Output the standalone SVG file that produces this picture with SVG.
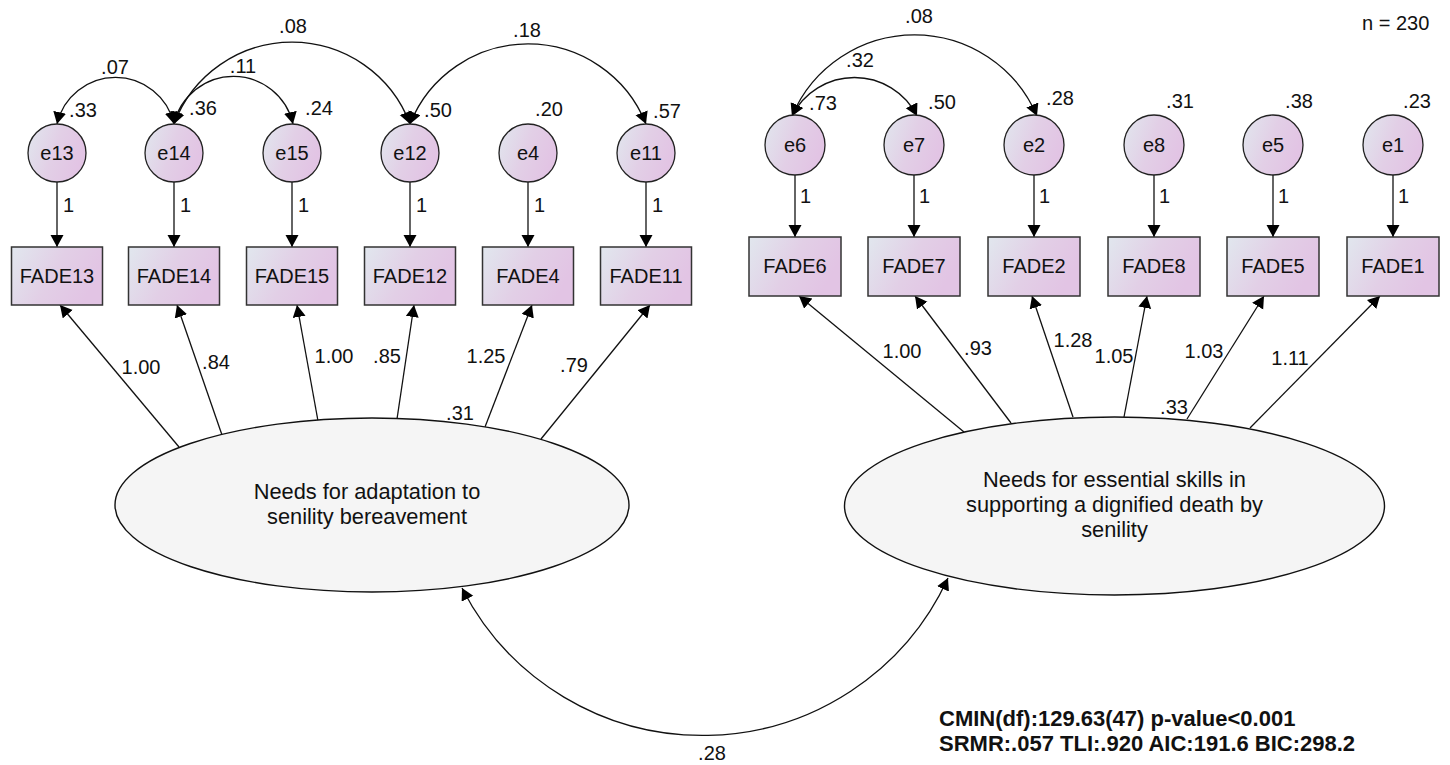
<svg xmlns="http://www.w3.org/2000/svg" width="1450" height="765" viewBox="0 0 1450 765">
<defs>
<linearGradient id="g" x1="0" y1="0" x2="1" y2="0.35">
<stop offset="0" stop-color="#e1e7ee"/>
<stop offset="0.55" stop-color="#e2cfe6"/>
<stop offset="1" stop-color="#e2c4e4"/>
</linearGradient>
<marker id="ah" markerUnits="userSpaceOnUse" markerWidth="14" markerHeight="14" refX="12" refY="6.5" orient="auto-start-reverse" viewBox="0 0 14 14">
<path d="M0,0 L12,6.5 L0,13 z" fill="#000"/>
</marker>
<style>
.t{font-family:"Liberation Sans",Arial,sans-serif;font-size:20px;fill:#111;}
.m{text-anchor:middle;}
.b{font-weight:bold;font-size:22px;}
.lat{font-size:21.8px;}
.box{fill:url(#g);stroke:#333;stroke-width:1.5;}
.err{fill:url(#g);stroke:#222;stroke-width:1.3;}
.ell{fill:#f5f5f5;stroke:#111;stroke-width:1.4;}
.c{fill:none;stroke:#111;stroke-width:1.3;}
.a{marker-end:url(#ah);}
.aa{marker-start:url(#ah);marker-end:url(#ah);}
</style>
</defs>

<g id="connectors">
<path class="c a" d="M57,182 V247"/>
<path class="c a" d="M174,182 V247"/>
<path class="c a" d="M292,182 V247"/>
<path class="c a" d="M410,182 V247"/>
<path class="c a" d="M528,182 V247"/>
<path class="c a" d="M646,182 V247"/>
<path class="c a" d="M795,175 V237"/>
<path class="c a" d="M914,175 V237"/>
<path class="c a" d="M1034,175 V237"/>
<path class="c a" d="M1154,175 V237"/>
<path class="c a" d="M1273,175 V237"/>
<path class="c a" d="M1393,175 V237"/>
<path class="c a" d="M179,447 L60,305"/>
<path class="c a" d="M222,435 L177,305"/>
<path class="c a" d="M318,421 L297,305"/>
<path class="c a" d="M397,419 L414,305"/>
<path class="c a" d="M485,427 L532,305"/>
<path class="c a" d="M541,439 L650,305"/>
<path class="c a" d="M964,432 L799,296"/>
<path class="c a" d="M1011,423 L915,296"/>
<path class="c a" d="M1073,417 L1032,296"/>
<path class="c a" d="M1124,417 L1147,296"/>
<path class="c a" d="M1187,419 L1264,296"/>
<path class="c a" d="M1250,428 L1380,296"/>
<path class="c aa" d="M57,124 A60,60 0 0 1 174,124"/>
<path class="c aa" d="M174,124 A61,61 0 0 1 293,124"/>
<path class="c aa" d="M174,124 A126,126 0 0 1 410,124"/>
<path class="c aa" d="M410,124 A127,127 0 0 1 646,124"/>
<path class="c aa" d="M792,116 A70,70 0 0 1 917,116"/>
<path class="c aa" d="M792,116 A133,133 0 0 1 1037,116"/>
<path class="c aa" d="M462,588 A270,270 0 0 0 948,578"/>

<g class="t">
<text x="63" y="212">1</text>
<text x="180" y="212">1</text>
<text x="298" y="212">1</text>
<text x="416" y="212">1</text>
<text x="534" y="212">1</text>
<text x="652" y="212">1</text>
<text x="800" y="203">1</text>
<text x="919" y="203">1</text>
<text x="1039" y="203">1</text>
<text x="1159" y="203">1</text>
<text x="1278" y="203">1</text>
<text x="1398" y="203">1</text>

<text class="m" x="141" y="374">1.00</text>
<text class="m" x="216" y="369">.84</text>
<text class="m" x="334" y="363">1.00</text>
<text class="m" x="387" y="363">.85</text>
<text class="m" x="486" y="363">1.25</text>
<text class="m" x="574" y="372">.79</text>
<text class="m" x="460" y="420">.31</text>

<text class="m" x="902" y="358">1.00</text>
<text class="m" x="978" y="355">.93</text>
<text class="m" x="1073" y="347">1.28</text>
<text class="m" x="1114" y="363">1.05</text>
<text class="m" x="1204" y="358">1.03</text>
<text class="m" x="1290" y="365">1.11</text>
<text class="m" x="1174" y="414">.33</text>

<text class="m" x="83" y="117">.33</text>
<text class="m" x="203" y="115">.36</text>
<text class="m" x="319" y="115">.24</text>
<text class="m" x="438" y="117">.50</text>
<text class="m" x="549" y="116">.20</text>
<text class="m" x="667" y="118">.57</text>
<text class="m" x="115" y="74">.07</text>
<text class="m" x="243" y="73">.11</text>
<text class="m" x="293" y="33">.08</text>
<text class="m" x="527" y="37">.18</text>

<text class="m" x="823" y="110">.73</text>
<text class="m" x="942" y="109">.50</text>
<text class="m" x="1060" y="105">.28</text>
<text class="m" x="1180" y="108">.31</text>
<text class="m" x="1299" y="108">.38</text>
<text class="m" x="1417" y="108">.23</text>
<text class="m" x="860" y="67">.32</text>
<text class="m" x="919" y="23">.08</text>

<text class="m" x="712" y="760">.28</text>
</g>
</g>

<g id="e13"><circle class="err" cx="57" cy="153" r="29"/><text class="t m" x="57" y="160">e13</text></g>
<g id="e14"><circle class="err" cx="174" cy="153" r="29"/><text class="t m" x="174" y="160">e14</text></g>
<g id="e15"><circle class="err" cx="292" cy="153" r="29"/><text class="t m" x="292" y="160">e15</text></g>
<g id="e12"><circle class="err" cx="410" cy="153" r="29"/><text class="t m" x="410" y="160">e12</text></g>
<g id="e4"><circle class="err" cx="528" cy="153" r="29"/><text class="t m" x="528" y="160">e4</text></g>
<g id="e11"><circle class="err" cx="646" cy="153" r="29"/><text class="t m" x="646" y="160">e11</text></g>

<g id="e6"><circle class="err" cx="795" cy="145" r="30"/><text class="t m" x="795" y="152">e6</text></g>
<g id="e7"><circle class="err" cx="914" cy="145" r="30"/><text class="t m" x="914" y="152">e7</text></g>
<g id="e2"><circle class="err" cx="1034" cy="145" r="30"/><text class="t m" x="1034" y="152">e2</text></g>
<g id="e8"><circle class="err" cx="1154" cy="145" r="30"/><text class="t m" x="1154" y="152">e8</text></g>
<g id="e5"><circle class="err" cx="1273" cy="145" r="30"/><text class="t m" x="1273" y="152">e5</text></g>
<g id="e1"><circle class="err" cx="1393" cy="145" r="30"/><text class="t m" x="1393" y="152">e1</text></g>

<g id="FADE13"><rect class="box" x="11.5" y="247" width="91" height="58"/><text class="t m" x="57" y="283">FADE13</text></g>
<g id="FADE14"><rect class="box" x="128.5" y="247" width="91" height="58"/><text class="t m" x="174" y="283">FADE14</text></g>
<g id="FADE15"><rect class="box" x="246.5" y="247" width="91" height="58"/><text class="t m" x="292" y="283">FADE15</text></g>
<g id="FADE12"><rect class="box" x="364.5" y="247" width="91" height="58"/><text class="t m" x="410" y="283">FADE12</text></g>
<g id="FADE4"><rect class="box" x="482.5" y="247" width="91" height="58"/><text class="t m" x="528" y="283">FADE4</text></g>
<g id="FADE11"><rect class="box" x="600.5" y="247" width="91" height="58"/><text class="t m" x="646" y="283">FADE11</text></g>

<g id="FADE6"><rect class="box" x="749" y="237" width="92" height="59"/><text class="t m" x="795" y="273">FADE6</text></g>
<g id="FADE7"><rect class="box" x="868" y="237" width="92" height="59"/><text class="t m" x="914" y="273">FADE7</text></g>
<g id="FADE2"><rect class="box" x="988" y="237" width="92" height="59"/><text class="t m" x="1034" y="273">FADE2</text></g>
<g id="FADE8"><rect class="box" x="1108" y="237" width="92" height="59"/><text class="t m" x="1154" y="273">FADE8</text></g>
<g id="FADE5"><rect class="box" x="1227" y="237" width="92" height="59"/><text class="t m" x="1273" y="273">FADE5</text></g>
<g id="FADE1"><rect class="box" x="1347" y="237" width="92" height="59"/><text class="t m" x="1393" y="273">FADE1</text></g>

<g id="F1"><ellipse class="ell" cx="372" cy="505" rx="257" ry="87"/>
<text class="t m lat" x="367" y="499">Needs for adaptation to</text>
<text class="t m lat" x="367" y="524">senility bereavement</text></g>

<g id="F2"><ellipse class="ell" cx="1114.5" cy="506" rx="270" ry="89"/>
<text class="t m lat" x="1114.5" y="487">Needs for essential skills in</text>
<text class="t m lat" x="1114.5" y="512">supporting a dignified death by</text>
<text class="t m lat" x="1114.5" y="537">senility</text></g>

<g id="notes">
<text class="t" x="1362" y="30">n = 230</text>
<text class="t b" x="939" y="726">CMIN(df):129.63(47) p-value&lt;0.001</text>
<text class="t b" x="939" y="751">SRMR:.057 TLI:.920 AIC:191.6 BIC:298.2</text>
</g>
</svg>
